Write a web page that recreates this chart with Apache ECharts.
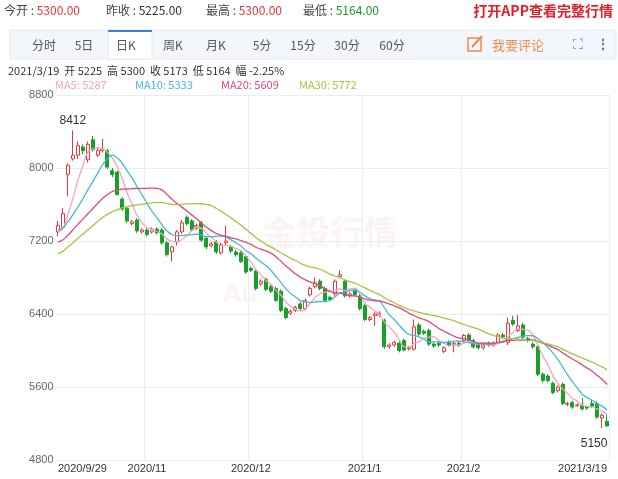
<!DOCTYPE html>
<html><head><meta charset="utf-8">
<script src="https://cdn.jsdelivr.net/npm/echarts@6/dist/echarts.min.js"></script>
<style>body{margin:0;background:#fff}#c{width:618px;height:479px}</style>
</head><body><div id="c"></div>
<script>
const tickLabels = {0:'2020/9/29',18:'2020/11',39:'2020/12',62:'2021/1',82:'2021/2',111:'2021/3/19'};
const monthLines = [18,39,62,82];
// [open, close, low, high]
const candles = [
[7300,7370,7250,7420],[7350,7500,7320,7560],[7930,8030,7690,8050],[8100,8140,8080,8412],[8140,8245,8100,8290],
[8230,8190,8150,8260],[8090,8260,8060,8290],[8310,8200,8180,8350],[8140,8190,8120,8230],[8190,8210,8170,8320],
[8190,8010,7990,8210],[7970,7930,7900,8000],[7955,7710,7700,7970],[7660,7550,7530,7680],[7560,7420,7400,7580],
[7390,7410,7370,7430],[7430,7310,7290,7450],[7300,7320,7280,7340],[7320,7270,7250,7340],[7300,7330,7280,7350],
[7330,7290,7270,7350],[7320,7180,7160,7340],[7180,7050,7030,7200],[7080,7135,6975,7150],[7190,7300,7150,7320],
[7300,7400,7280,7430],[7460,7390,7370,7480],[7420,7320,7300,7440],[7340,7370,7320,7390],[7400,7210,7190,7420],
[7230,7135,7110,7250],[7150,7170,7130,7190],[7190,7080,7060,7210],[7070,7160,7050,7180],[7180,7200,7150,7370],
[7140,7090,7070,7160],[7080,7050,7030,7100],[7070,6975,6960,7090],[7030,6860,6840,7050],[6900,6880,6860,6920],
[6870,6680,6660,6890],[6730,6760,6710,6780],[6780,6670,6650,6800],[6700,6650,6630,6720],[6680,6550,6530,6700],
[6650,6440,6420,6670],[6460,6360,6340,6480],[6410,6430,6390,6450],[6440,6470,6420,6490],[6510,6460,6440,6530],
[6460,6550,6440,6570],[6610,6680,6590,6700],[6700,6740,6680,6800],[6760,6680,6660,6780],[6680,6550,6530,6700],
[6580,6560,6540,6600],[6620,6760,6600,6780],[6810,6830,6790,6880],[6760,6600,6580,6780],[6600,6620,6580,6640],
[6660,6610,6590,6680],[6600,6460,6440,6620],[6490,6340,6320,6510],[6340,6360,6320,6380],[6380,6400,6270,6420],
[6390,6410,6370,6430],[6330,6040,6020,6350],[6040,6060,6020,6080],[6060,6090,6040,6110],[6080,6000,5980,6100],
[6110,6005,5990,6130],[6020,6030,6000,6050],[6015,6260,6000,6340],[6280,6180,6160,6300],[6210,6190,6170,6230],
[6220,6070,6050,6240],[6070,6050,6030,6090],[6080,6060,6040,6100],[5990,6030,5970,6050],[6090,6060,6040,6110],
[6070,6080,5980,6100],[6080,6060,6040,6100],[6110,6165,6090,6180],[6170,6110,6090,6190],[6110,6040,6020,6130],
[6060,6030,6010,6080],[6030,6060,6010,6080],[6080,6060,6040,6100],[6060,6080,6040,6100],[6090,6170,6070,6190],
[6170,6150,6130,6190],[6090,6300,6060,6360],[6330,6290,6270,6380],[6220,6270,6200,6390],[6280,6145,6125,6300],
[6130,6110,6090,6150],[6070,6040,6020,6090],[6040,5740,5720,6060],[5740,5670,5650,5760],[5720,5670,5650,5740],
[5640,5540,5520,5660],[5560,5600,5540,5620],[5630,5420,5400,5650],[5410,5420,5390,5440],[5430,5380,5360,5450],
[5395,5405,5380,5420],[5400,5360,5340,5480],[5380,5370,5350,5400],[5420,5390,5370,5460],[5420,5270,5250,5440],
[5260,5290,5150,5310],[5225,5173,5164,5300]
];
// estimated closes of the 29 sessions before the window (for moving averages)
const priorCloses = [6650,6700,6760,6820,6800,6850,6780,6830,6900,6950,7000,7050,6980,7020,7080,7100,7050,7060,7090,
7150,7250,7350,7400,7380,7320,7280,7300,7260,7280];
const maDefs = [['MA5',5,'#f5a3bf'],['MA10',10,'#3fbcd8'],['MA20',20,'#e4467c'],['MA30',30,'#a9c440']];
const maShown = [5287,5333,5609,5772];

const closes = priorCloses.concat(candles.map(c=>c[1]));
function ma(n){const out=[];for(let i=0;i<candles.length;i++){const e=priorCloses.length+i;let s=0;for(let k=e-n+1;k<=e;k++)s+=closes[k];out.push(+(s/n).toFixed(1));}return out;}
const cats = candles.map((c,i)=>String(i));
const chart = echarts.init(document.getElementById('c'));
const F='"Microsoft YaHei","Noto Sans CJK SC",sans-serif';
const tabs=['分时','5日','日K','周K','月K','5分','15分','30分','60分'];
const tabX=[44,84,126,173,216,262,303,347,392];
const g=[];
g.push({type:'rect',shape:{x:10,y:30,width:606,height:29},style:{fill:'#f3f7fc',stroke:'#e3e9f1'}});
g.push({type:'rect',shape:{x:108,y:30,width:44,height:29},style:{fill:'#fff',stroke:'#e3e9f1'}});
g.push({type:'rect',shape:{x:108,y:30,width:44,height:2},style:{fill:'#3d7fd6'}});
tabs.forEach((t,i)=>g.push({type:'text',x:tabX[i],y:45,style:{text:t,fill:'#555',font:'12px '+F,textAlign:'center',textVerticalAlign:'middle'}}));
g.push({type:'rect',shape:{x:468,y:38,width:13,height:13},style:{fill:'none',stroke:'#f08a4b',lineWidth:1.5}});
g.push({type:'line',shape:{x1:472,y1:47,x2:482,y2:36},style:{stroke:'#f08a4b',lineWidth:2}});
g.push({type:'text',x:492,y:45,style:{text:'我要评论',fill:'#f08a4b',font:'13px '+F,textVerticalAlign:'middle'}});
g.push({type:'text',x:578,y:45,style:{text:'⛶',fill:'#3d7fd6',font:'14px sans-serif',textAlign:'center',textVerticalAlign:'middle'}});
g.push({type:'text',x:603,y:45,style:{text:'⋮',fill:'#3d7fd6',font:'bold 14px sans-serif',textAlign:'center',textVerticalAlign:'middle'}});
const head=[['今开 : ',4,'5300.00','#e33'],['昨收 : ',106,'5225.00','#333'],['最高 : ',206,'5300.00','#e33'],['最低 : ',303,'5164.00','#1a9a2c']];
head.forEach(h=>g.push({type:'text',x:h[1],y:10,style:{text:'{a|'+h[0]+'}{b|'+h[2]+'}',rich:{a:{fill:'#444',font:'12px '+F},b:{fill:h[3],font:'12px '+F}},textVerticalAlign:'middle'}}));
g.push({type:'text',x:613,y:11,style:{text:'打开APP查看完整行情',fill:'#e3202a',font:'bold 14px '+F,textAlign:'right',textVerticalAlign:'middle'}});
g.push({type:'text',x:8,y:71,style:{text:'2021/3/19  开 5225  高 5300  收 5173  低 5164  幅 -2.25%',fill:'#333',font:'11px '+F,textVerticalAlign:'middle'}});
const lines = maDefs.map(d=>ma(d[1]));
const lx=[55,135,221,299];
maDefs.forEach((d,i)=>g.push({type:'text',x:lx[i],y:85,style:{text:d[0]+': '+maShown[i],fill:d[2],font:'11px '+F,textVerticalAlign:'middle'}}));
g.push({type:'text',x:330,y:232,z:-1,style:{text:'金投行情',fill:'rgba(230,150,140,0.1)',font:'bold 34px '+F,textAlign:'center',textVerticalAlign:'middle'}});
g.push({type:'text',x:240,y:295,z:-1,style:{text:'Au',fill:'rgba(230,150,140,0.12)',font:'bold 26px sans-serif',textAlign:'center',textVerticalAlign:'middle'}});

const series=[{type:'candlestick',data:candles,barWidth:3.5,
 itemStyle:{color:'#fff',color0:'#17a02a',borderColor:'#e8393d',borderColor0:'#17a02a',borderWidth:1},
 markPoint:{symbol:'circle',symbolSize:0,data:[
  {type:'max',valueDim:'highest',label:{formatter:'8412',position:'top',distance:4,color:'#333',fontSize:12}},
  {type:'min',valueDim:'lowest',label:{formatter:'5150',position:'bottom',distance:10,offset:[-8,0],color:'#333',fontSize:12}}]}}];
maDefs.forEach((d,i)=>series.push({type:'line',name:d[0],data:lines[i],showSymbol:false,smooth:true,lineStyle:{color:d[2],width:1.3},z:3}));

chart.setOption({animation:false,graphic:g,
 grid:{left:55.5,right:8.5,top:95,bottom:19,containLabel:false},
 xAxis:{type:'category',data:cats,boundaryGap:true,axisLine:{show:false},axisTick:{show:false},
  axisLabel:{interval:(i)=>tickLabels[i]!==undefined,formatter:(v,i)=>tickLabels[i]||'',color:'#333',fontSize:11,margin:3,alignMinLabel:'left',alignMaxLabel:'right',showMinLabel:true,showMaxLabel:true},
  splitLine:{show:true,interval:(i)=>monthLines.includes(i),lineStyle:{color:'#ececec'}}},
 yAxis:{type:'value',min:4800,max:8800,interval:800,position:'left',axisLine:{show:false},axisTick:{show:false},
  axisLabel:{color:'#666',fontSize:11,margin:2,formatter:v=>String(v)},splitLine:{lineStyle:{color:'#ececec'}}},
 series});
</script></body></html>
